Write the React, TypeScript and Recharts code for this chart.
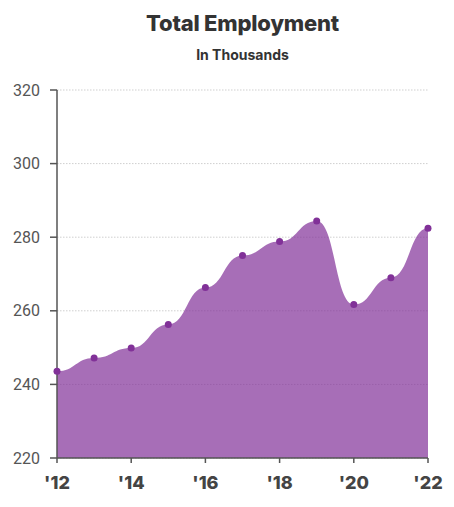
import React from 'react'
import { AreaChart, Area, XAxis, YAxis, CartesianGrid } from 'recharts'

const years = [2012, 2013, 2014, 2015, 2016, 2017, 2018, 2019, 2020, 2021, 2022]
const employment = [243.6, 247.2, 249.9, 256.3, 266.3, 275.0, 278.8, 284.4, 261.7, 269.0, 282.4]
const xTicks = [2012, 2014, 2016, 2018, 2020, 2022]
const yTicks = [220, 240, 260, 280, 300, 320]

const data = years.map((year, i) => ({ year, value: employment[i] }))

const PURPLE = '#813198'

export default function App() {
  return (
    <div style={{ position: 'absolute', left: 0, top: 0, width: 454, height: 507, background: '#fff' }}>
      <div
        style={{
          position: 'absolute',
          left: 57,
          width: 371,
          top: 10,
          textAlign: 'center',
          fontFamily: 'Inter, sans-serif',
          fontWeight: 800,
          fontSize: 22,
          color: '#333',
          letterSpacing: -0.2,
        }}
      >
        Total Employment
      </div>
      <div
        style={{
          position: 'absolute',
          left: 57,
          width: 371,
          top: 46,
          textAlign: 'center',
          fontFamily: 'Inter, sans-serif',
          fontWeight: 700,
          fontSize: 14,
          color: '#333',
        }}
      >
        In Thousands
      </div>
      <AreaChart
        width={454}
        height={507}
        data={data}
        margin={{ top: 90, right: 26, left: 0, bottom: 0 }}
      >
        <CartesianGrid
          vertical={false}
          stroke="#cfcfcf"
          strokeDasharray="1.5 1.5"
          horizontalValues={yTicks}
        />
        <XAxis
          dataKey="year"
          type="number"
          domain={[2012, 2022]}
          ticks={xTicks}
          tickFormatter={v => `'${String(v).slice(2)}`}
          height={49}
          tickSize={5}
          tickMargin={13}
          axisLine={{ stroke: '#555', strokeWidth: 1.5 }}
          tickLine={{ stroke: '#555', strokeWidth: 1.5 }}
          tick={{ fontSize: 18, fontWeight: 800, fill: '#444', fontFamily: 'Inter, sans-serif' }}
        />
        <YAxis
          domain={[220, 320]}
          ticks={yTicks}
          width={57}
          tickSize={7}
          tickMargin={10}
          axisLine={{ stroke: '#555', strokeWidth: 1.5 }}
          tickLine={{ stroke: '#555', strokeWidth: 1.5 }}
          tick={{ fontSize: 16, fill: '#555', fontFamily: 'Roboto, sans-serif' }}
        />
        <Area
          type="bumpX"
          dataKey="value"
          stroke="none"
          fill={PURPLE}
          fillOpacity={0.7}
          dot={{ r: 3.5, fill: PURPLE, stroke: 'none', fillOpacity: 1 }}
          activeDot={false}
          isAnimationActive={false}
        />
      </AreaChart>
    </div>
  )
}
